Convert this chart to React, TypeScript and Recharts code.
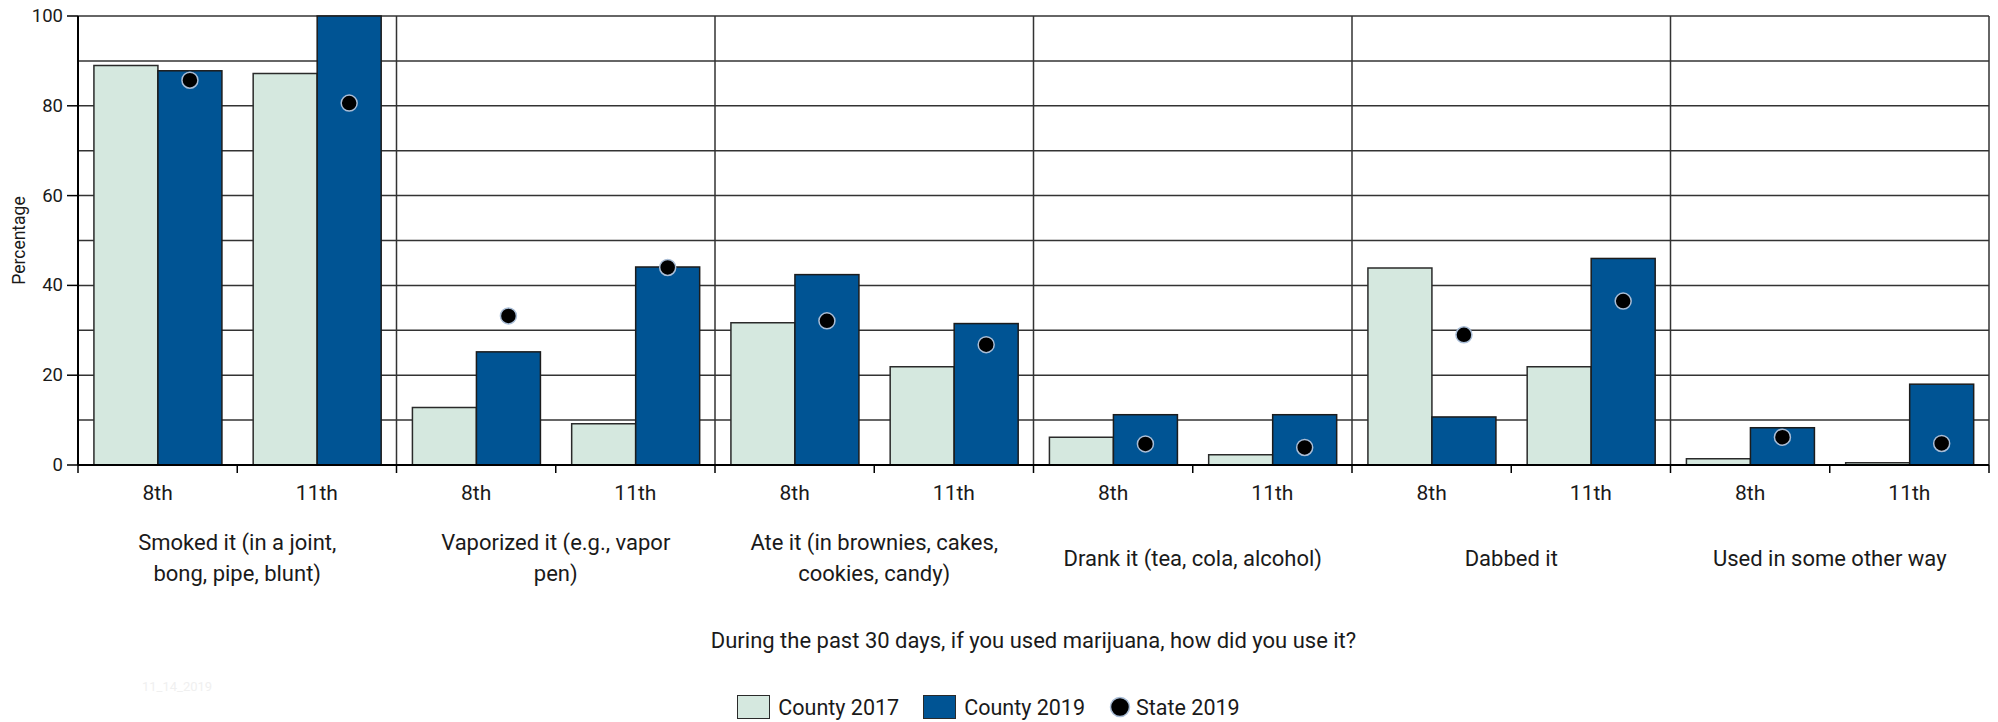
import React from "react"
import {
  Bar,
  BarChart,
  CartesianGrid,
  Label,
  Legend,
  ReferenceLine,
  XAxis,
  YAxis,
} from "recharts"

const FONT = "Roboto, 'Liberation Sans', sans-serif"
const INK = "#1a1a1a"

// question groups (one or two lines each)
const methods: string[][] = [
  ["Smoked it (in a joint,", "bong, pipe, blunt)"],
  ["Vaporized it (e.g., vapor", "pen)"],
  ["Ate it (in brownies, cakes,", "cookies, candy)"],
  ["Drank it (tea, cola, alcohol)"],
  ["Dabbed it"],
  ["Used in some other way"],
]
const grades = ["8th", "11th"]

// percentages, in category order (method x grade)
const county2017 = [89.0, 87.2, 12.8, 9.2, 31.7, 21.9, 6.2, 2.3, 43.9, 21.9, 1.4, 0.5]
const county2019 = [87.8, 100, 25.2, 44.1, 42.4, 31.5, 11.2, 11.2, 10.7, 46.0, 8.3, 18.0]
const state2019 = [85.7, 80.6, 33.2, 44.0, 32.1, 26.8, 4.7, 3.9, 29.0, 36.5, 6.2, 4.8]

const yTicks = [0, 10, 20, 30, 40, 50, 60, 70, 80, 90, 100]
const axisTitle =
  "During the past 30 days, if you used marijuana, how did you use it?"
const seriesNames = ["County 2017", "County 2019", "State 2019"]
const stamp = "11_14_2019"

const COLOR_17 = "#d5e8df"
const COLOR_19 = "#005494"

const rows = county2017.map((v, i) => ({
  id: `m${Math.floor(i / 2)}-${grades[i % 2]}`,
  grade: grades[i % 2],
  c17: v,
  c19: county2019[i],
  state: state2019[i],
}))

function YTick(props: any) {
  const { x, y, payload } = props
  if (payload.value % 20 !== 0) return null
  return (
    <g>
      <line x1={x - 11} x2={x} y1={y} y2={y} stroke="#000" strokeWidth={1.5} />
      <text
        x={x - 15}
        y={y}
        textAnchor="end"
        dominantBaseline="central"
        fontFamily={FONT}
        fontSize={18.5}
        fill={INK}
      >
        {payload.value}
      </text>
    </g>
  )
}

function XTick(props: any) {
  const { x, y, payload } = props
  const i = payload.index
  const half = payload.offset ?? 0
  const lines = methods[Math.floor(i / 2)]
  return (
    <g fontFamily={FONT} fill={INK}>
      <line x1={x - half} x2={x - half} y1={y} y2={y + 8} stroke="#000" strokeWidth={1.5} />
      {i === rows.length - 1 && (
        <line x1={x + half} x2={x + half} y1={y} y2={y + 8} stroke="#000" strokeWidth={1.5} />
      )}
      <text x={x} y={y + 28} textAnchor="middle" dominantBaseline="central" fontSize={21}>
        {rows[i].grade}
      </text>
      {i % 2 === 0 &&
        lines.map((t, k) => (
          <text
            key={k}
            x={x + half}
            y={y + 93 + (k - (lines.length - 1) / 2) * 31.5}
            textAnchor="middle"
            dominantBaseline="central"
            fontSize={22}
          >
            {t}
          </text>
        ))}
    </g>
  )
}

// County 2019 bar, with the State 2019 marker placed on the same linear scale
function BarWithDot(props: any) {
  const { x, y, width, height, payload, fill } = props
  const perUnit = height / payload.c19
  const cy = y + height - payload.state * perUnit
  return (
    <g>
      <rect x={x} y={y} width={width} height={height} fill={fill} stroke="#1c1c1c" strokeWidth={1.5} />
      <circle cx={x + width / 2} cy={cy} r={8} fill="#000" stroke="#a9bdd6" strokeWidth={1.5} />
    </g>
  )
}

function LegendRow() {
  const item: React.CSSProperties = { display: "flex", alignItems: "center", marginRight: 24 }
  const box = (bg: string): React.CSSProperties => ({
    width: 33,
    height: 24,
    background: bg,
    border: "1.5px solid #2a2a2a",
    boxSizing: "border-box",
    marginRight: 8,
  })
  return (
    <div
      style={{
        display: "flex",
        justifyContent: "center",
        alignItems: "center",
        height: 30,
        fontFamily: FONT,
        fontSize: 21.5,
        color: INK,
        paddingRight: 12,
      }}
    >
      <div style={item}>
        <div style={box(COLOR_17)} />
        <span>{seriesNames[0]}</span>
      </div>
      <div style={item}>
        <div style={box(COLOR_19)} />
        <span>{seriesNames[1]}</span>
      </div>
      <div style={{ ...item, marginRight: 0 }}>
        <svg width={22} height={22} style={{ marginRight: 5 }}>
          <circle cx={11} cy={11} r={9.5} fill="#000" stroke="#a9bdd6" strokeWidth={1.5} />
        </svg>
        <span>{seriesNames[2]}</span>
      </div>
    </div>
  )
}

export default function App() {
  return (
    <div style={{ position: "absolute", left: 0, top: 0, width: 1998, height: 722, background: "#fff" }}>
      <BarChart
        width={1998}
        height={722}
        data={rows}
        margin={{ top: 16, right: 9, bottom: 0, left: 0 }}
        barCategoryGap="10%"
        barGap={0}
      >
        <CartesianGrid vertical={false} stroke="#333" strokeWidth={1.5} />
        <XAxis
          dataKey="id"
          height={227}
          interval={0}
          tickSize={0}
          tickMargin={0}
          tickLine={false}
          axisLine={{ stroke: "#000", strokeWidth: 2 }}
          tick={<XTick />}
        >
          <Label
            content={(p: any) => (
              <text
                x={p.viewBox.x + p.viewBox.width / 2}
                y={p.viewBox.y + 175}
                textAnchor="middle"
                dominantBaseline="central"
                fontFamily={FONT}
                fontSize={22}
                fill={INK}
              >
                {axisTitle}
              </text>
            )}
          />
        </XAxis>
        <YAxis
          width={78}
          domain={[0, 100]}
          ticks={yTicks}
          interval={0}
          tickSize={0}
          tickMargin={0}
          tickLine={false}
          axisLine={{ stroke: "#000", strokeWidth: 2 }}
          tick={<YTick />}
        >
          <Label
            content={(p: any) => {
              const cx = p.viewBox.x + 19
              const cy = p.viewBox.y + p.viewBox.height / 2
              return (
                <text
                  x={cx}
                  y={cy}
                  transform={`rotate(-90 ${cx} ${cy})`}
                  textAnchor="middle"
                  dominantBaseline="central"
                  fontFamily={FONT}
                  fontSize={17.5}
                  fill={INK}
                >
                  Percentage
                </text>
              )
            }}
          />
        </YAxis>
        {[2, 4, 6, 8, 10].map((i) => (
          <ReferenceLine key={i} x={rows[i].id} position="start" stroke="#333" strokeWidth={1.5} />
        ))}
        <ReferenceLine x={rows[rows.length - 1].id} position="end" stroke="#333" strokeWidth={1.5} />
        <Bar
          dataKey="c17"
          name={seriesNames[0]}
          fill={COLOR_17}
          stroke="#2a2a2a"
          strokeWidth={1.5}
          isAnimationActive={false}
        />
        <Bar
          dataKey="c19"
          name={seriesNames[1]}
          fill={COLOR_19}
          shape={<BarWithDot />}
          isAnimationActive={false}
        />
        <Legend verticalAlign="bottom" align="center" height={30} content={() => <LegendRow />} />
      </BarChart>
      <div
        style={{
          position: "absolute",
          left: 142,
          top: 679,
          fontFamily: FONT,
          fontSize: 13,
          color: "#f0f0f0",
        }}
      >
        {stamp}
      </div>
    </div>
  )
}
